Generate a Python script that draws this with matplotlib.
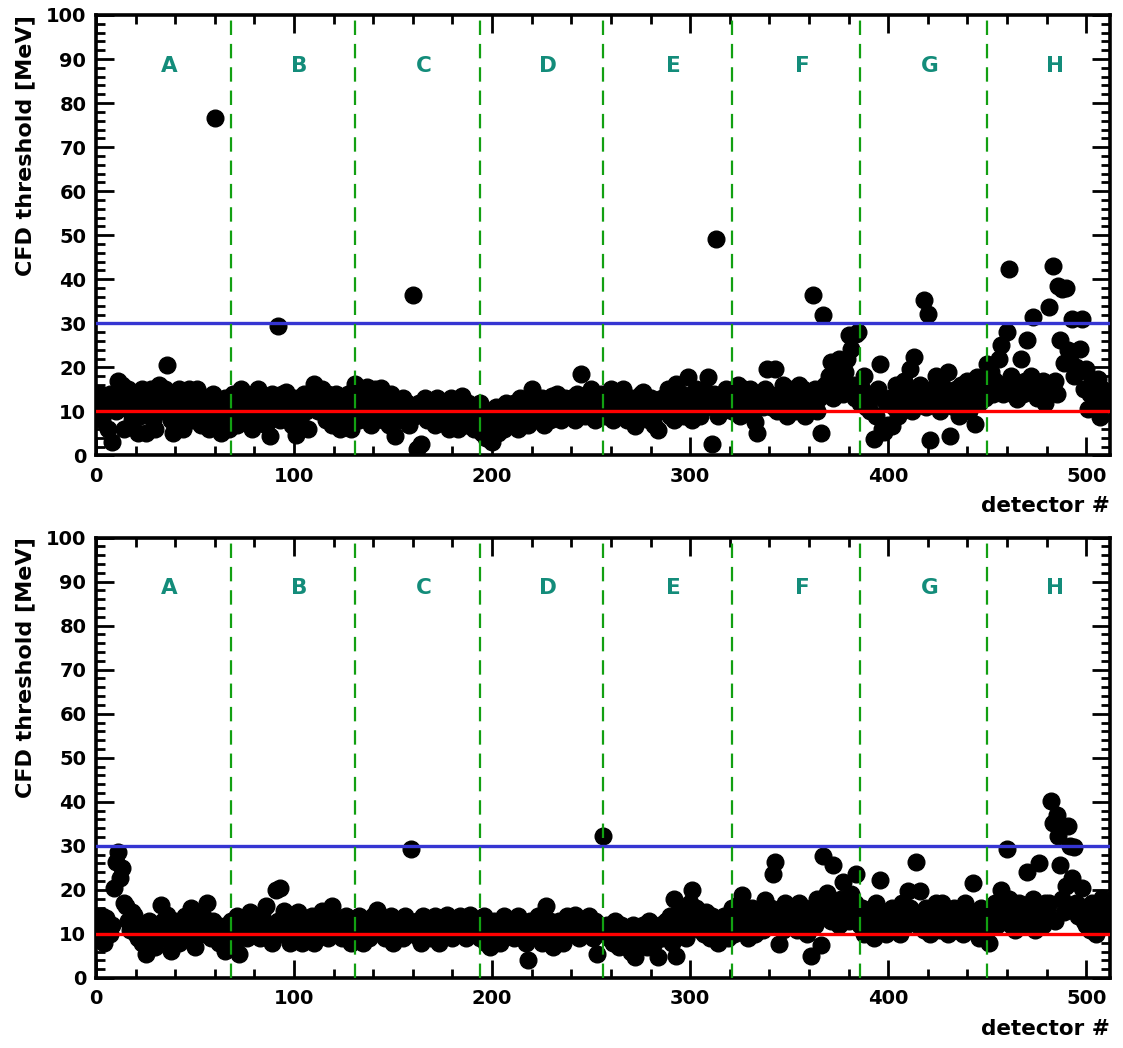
import matplotlib.pyplot as plt
import numpy as np
from matplotlib.ticker import MultipleLocator

plt.rcParams['font.family'] = 'DejaVu Sans'
plt.rcParams['font.weight'] = 'bold'

# CFD thresholds per detector, two calibration runs (MeV)
thr_run1 = [
    12, 9, 14, 8, 11, 13, 6, 14, 3, 12, 10, 17, 13, 16, 6, 12,
    15, 10, 8, 14, 12, 5, 9, 15, 12, 5, 14, 11, 15, 8, 6, 13,
    16, 10, 13, 15, 20.5, 12, 8, 5, 14, 10, 15, 12, 6, 9, 13, 15,
    11, 8, 13, 15, 14, 7, 11, 9, 12, 6, 9, 14, 76.5, 11, 7, 5,
    10, 13, 8, 6, 11, 14, 9, 7, 12, 15, 11, 8, 14, 10, 12, 6,
    11, 14, 15, 8, 10, 12, 7, 11, 4.5, 14, 12, 9, 29.3, 8, 14, 11,
    14.5, 12, 9, 7, 13, 4.6, 11, 8, 12, 14, 10, 6, 12, 11, 16.3, 13,
    10, 12, 15, 11, 8, 14, 12, 7, 11, 14, 9, 6, 12, 8, 11, 14,
    10, 6, 12, 16.3, 11, 8, 14, 12, 9, 15.6, 11, 7, 12, 15, 10, 11,
    15.3, 8, 12, 11, 7, 14, 9, 4.5, 12, 11, 8, 13, 10, 12, 7, 11,
    36.5, 9, 1.5, 12, 2.7, 11, 13, 8, 12, 10, 11, 7, 13, 12, 9, 8,
    12, 11, 6, 13, 10, 8, 12, 6, 11, 13.6, 9, 7, 12, 11, 8, 6,
    11, 8, 12, 5, 9, 4, 10, 7, 3.1, 8, 11, 5, 9, 10, 6, 12,
    9, 11, 7, 12, 10, 6, 13, 8, 11, 12, 7, 10, 15.2, 11, 8, 12,
    10, 13, 7, 11, 12, 8, 13.6, 12, 9, 14, 11, 8, 12, 13, 9, 11,
    13, 12, 8, 14, 11, 18.6, 12, 9, 13, 11, 15, 12, 8, 13, 10, 14,
    12, 9, 13, 11, 15, 8, 12, 14, 9, 11, 15, 12, 8, 11, 13, 9,
    6.8, 12, 10, 14, 14.4, 9, 12, 8, 13, 11, 7, 12, 5.7, 10, 13, 11,
    12, 15, 9, 13, 8, 16.3, 12, 10, 14, 9, 13, 17.9, 12, 8, 11, 15,
    13, 9, 12, 15, 11, 17.9, 13, 2.7, 14, 49.2, 9, 12, 10, 13, 15, 12,
    14, 10, 13, 12, 16, 9, 13, 15, 12, 10, 15, 13, 11, 7.6, 5, 14,
    13, 11, 15, 19.7, 14, 11, 13, 19.7, 10, 14, 12, 16, 13, 9, 15, 12,
    14, 10, 13, 16, 12, 15, 9, 13, 14, 11, 36.5, 15, 10, 13, 5, 31.8,
    16, 14, 18, 21.2, 13, 15, 20, 21.8, 17, 14, 19, 22, 27.3, 24.2, 16, 13,
    27.5, 28, 12, 15, 18, 11, 14, 10, 13, 3.8, 9, 15, 20.8, 6, 5.3, 12,
    7, 13, 6.8, 11, 16, 9, 14, 12, 17, 13, 15, 19.7, 10, 22.4, 14, 12,
    16, 13, 35.4, 11, 32.2, 3.4, 15, 12, 18, 14, 10, 16, 13, 12, 19, 4.5,
    14, 11, 15, 13, 9, 16, 12, 14, 17, 10, 13, 15, 7.2, 17.9, 12, 14,
    15, 13, 20.8, 16, 19, 14, 17, 15, 22, 25, 14, 16, 28, 42.4, 18, 14,
    16, 12.9, 15, 22, 14, 17, 26.1, 15, 18, 31.5, 14, 13, 16, 15, 17, 12,
    16, 33.8, 15, 42.9, 17, 14, 38.5, 26.1, 37.7, 21, 38, 24, 22.7, 31, 18, 20,
    19, 24.2, 31, 15, 19.7, 10.6, 14, 17, 16, 12, 17.4, 8.8, 15, 14, 13.6, 12,
]

thr_run2 = [
    13, 9, 12, 14, 8, 13.6, 11, 10, 12, 20.4, 26.4, 28.6, 22.6, 25, 17, 16.3,
    13, 11, 15, 14.4, 10, 9, 12, 8, 11, 5.4, 10, 13, 9, 12, 7, 11,
    10, 16.6, 13, 9, 14.4, 12, 6.2, 11, 13, 10, 8, 12, 11, 14, 9, 10,
    15.9, 12, 7, 11, 13, 10, 14, 12, 17, 11, 9, 13, 10, 12, 8, 11,
    9, 6.2, 12, 10, 13, 11, 8, 14, 5.4, 12, 10, 13, 9, 11, 15, 12,
    10, 13, 11, 9, 14, 12, 16.3, 10, 12, 8, 11, 20, 13, 20.4, 10, 15.2,
    12, 11, 8, 13, 10, 12, 15, 11, 8, 13, 12, 9, 11, 14, 8, 12,
    11, 13, 15.2, 10, 12, 9, 14, 16.3, 11, 10, 13, 12, 9, 11, 14, 10,
    12, 8, 13, 11, 10, 14, 12, 8, 11, 13, 9, 12, 14, 11, 15.5, 12,
    10, 13, 9, 12, 11, 14, 8, 12, 10, 13, 11, 9, 14, 12, 10, 29.3,
    12, 11, 13, 9, 8, 14, 12, 11, 13, 9, 12, 14, 10, 8, 12, 13,
    10, 14.4, 12, 11, 9, 13, 12, 10, 14, 11, 12, 9, 13, 14.4, 11, 10,
    12, 13, 9, 11, 14, 8, 12, 7, 11, 13, 10, 12, 8, 11, 14, 12,
    10, 13, 11, 9, 12, 14, 10, 11, 12, 8, 4, 13, 11, 10, 12, 14,
    11, 8, 12, 16.3, 10, 13, 11, 7, 12, 10, 13, 11, 8, 12, 14, 11,
    10, 13, 14.4, 12, 9, 11, 13, 10, 12, 14, 11, 9, 13, 5.4, 12, 11,
    32.3, 10, 12, 9, 11, 8, 13, 10, 7, 12, 9, 11, 8, 10, 6, 12,
    4.7, 9, 11, 8, 12, 10, 7, 13, 9, 11, 8, 10, 4.7, 12, 9, 11,
    13, 10, 14, 8, 18, 5.1, 12, 16, 11, 14, 9, 13, 17, 20, 12, 16,
    14, 11, 13, 10, 15, 12, 9, 14, 11, 13, 8, 12, 10, 14, 11, 9,
    13, 16, 10, 14, 12, 17, 18.9, 11, 15, 9, 13, 16, 12, 10, 14, 13,
    15, 11, 17.7, 14, 12, 16, 23.7, 26.3, 13, 7.7, 15, 11, 17, 14, 12, 16,
    13, 15, 11, 17, 14, 12, 16, 10, 13, 5.1, 15, 12, 18, 14, 7.4, 27.8,
    16, 19.2, 14, 13, 25.6, 17, 15, 12, 18, 21.9, 14, 16, 13, 19, 15, 17,
    23.7, 14, 12, 16, 10, 13, 15, 11, 14, 9, 17, 13, 22.2, 12, 15, 10,
    14, 12, 16, 11, 13, 15, 10, 17, 14, 12, 19.7, 16, 13, 15, 26.4, 12,
    19.7, 14, 11, 16, 13, 10, 15, 12, 17, 14, 11, 17, 13, 15, 10, 14,
    12, 16, 11, 14, 13, 15, 10, 17, 12, 14, 11, 21.5, 15, 13, 9, 16,
    12, 14, 11, 8, 15, 13, 17, 12, 14, 20, 16, 13, 29.3, 18, 12, 15,
    11, 14, 17, 13, 16, 12, 24.1, 15, 13, 18, 11, 16, 26, 14, 12, 17,
    15, 17, 40.1, 35.3, 13, 37.1, 32.3, 25.6, 18, 15, 20.8, 34.5, 30, 22.6, 29.8, 17,
    14, 16.3, 20.4, 13, 12.1, 15, 11, 17, 13, 10, 16, 14, 18.1, 12, 15, 17,
]

upper_cut = [30, 30]
lower_cut = [10, 10]

# sector boundaries along the detector index
sector_edges = [68, 131, 194, 256, 321, 386, 450]
sector_names = ['A', 'B', 'C', 'D', 'E', 'F', 'G', 'H']

N_DET = 512
assert len(thr_run1) == N_DET and len(thr_run2) == N_DET
detector = np.arange(N_DET)


def draw_panel(ax, thr, hi, lo):
    ax.plot(detector, thr, 'o', color='black', ms=12, mec='black', zorder=2)
    ax.axhline(hi, color='#3535d2', lw=2.4, zorder=3)
    ax.axhline(lo, color='#ff0000', lw=2.4, zorder=3)
    for e in sector_edges:
        ax.axvline(e, color='#12a012', lw=1.6, ls=(0, (6.5, 4)), zorder=3)

    bounds = [0] + sector_edges + [N_DET]
    for i, name in enumerate(sector_names):
        xc = 0.5 * (bounds[i] + bounds[i + 1]) + 3
        ax.text(xc, 88.5, name, color='#138c7a', fontsize=15.5,
                fontweight='bold', ha='center', va='center')

    ax.set_xlim(0, N_DET)
    ax.set_ylim(0, 100)
    ax.xaxis.set_major_locator(MultipleLocator(100))
    ax.xaxis.set_minor_locator(MultipleLocator(20))
    ax.yaxis.set_major_locator(MultipleLocator(10))
    ax.yaxis.set_minor_locator(MultipleLocator(2))
    ax.tick_params(which='both', direction='in', top=True, right=True,
                   width=2, labelsize=14)
    ax.tick_params(which='major', length=13)
    ax.tick_params(which='minor', length=6.5)
    ax.tick_params(axis='x', pad=8)
    ax.tick_params(axis='y', pad=7)
    for sp in ax.spines.values():
        sp.set_linewidth(2.6)

    ax.text(1.0, -0.115, 'detector #', transform=ax.transAxes,
            ha='right', va='center', fontsize=15.5, fontweight='bold')
    ax.text(-0.07, 1.0, 'CFD threshold [MeV]', transform=ax.transAxes,
            rotation=90, ha='center', va='top', fontsize=16, fontweight='bold')


fig = plt.figure(figsize=(11.23, 10.48), dpi=100)
ax1 = fig.add_axes([0.0855, 0.5654, 0.9029, 0.4203])
ax2 = fig.add_axes([0.0855, 0.0668, 0.9029, 0.4203])

draw_panel(ax1, thr_run1, upper_cut[0], lower_cut[0])
draw_panel(ax2, thr_run2, upper_cut[1], lower_cut[1])

fig.savefig('out.png', dpi=100)
